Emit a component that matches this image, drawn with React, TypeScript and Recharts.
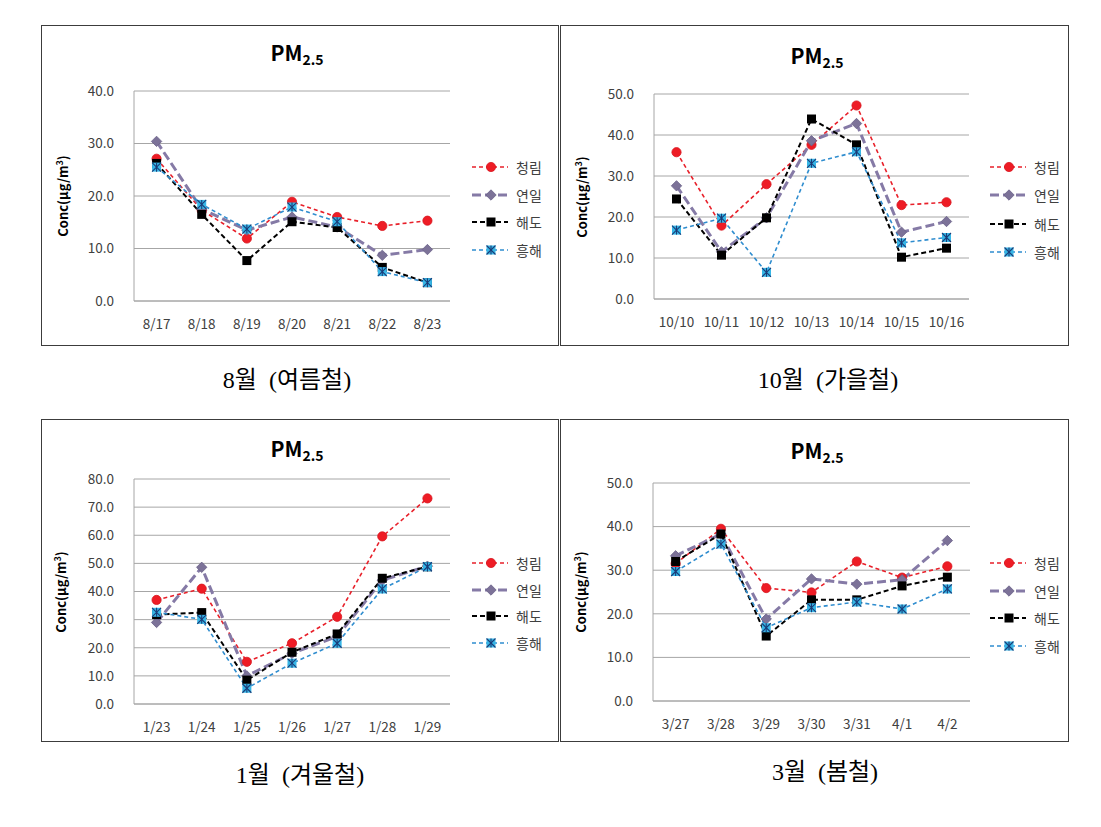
import React from 'react';
import { LineChart, Line, XAxis, YAxis, CartesianGrid } from 'recharts';

// ---------- data ----------
const seriesNames = ['청림', '연일', '해도', '흥해'];

const augDates = ['8/17', '8/18', '8/19', '8/20', '8/21', '8/22', '8/23'];
const augCheongrim = [27.1, 17.3, 11.9, 18.9, 16.0, 14.3, 15.3];
const augYeonil = [30.4, 17.5, 13.5, 16.0, 14.1, 8.7, 9.8];
const augHaedo = [26.2, 16.5, 7.7, 15.1, 14.0, 6.4, 3.5];
const augHeunghae = [25.5, 18.4, 13.7, 17.9, 15.1, 5.6, 3.5];
const augTicks = [0, 10, 20, 30, 40];

const octDates = ['10/10', '10/11', '10/12', '10/13', '10/14', '10/15', '10/16'];
const octCheongrim = [35.8, 17.9, 28.0, 37.6, 47.2, 22.9, 23.6];
const octYeonil = [27.6, 11.5, 19.8, 38.6, 42.8, 16.3, 18.9];
const octHaedo = [24.4, 10.7, 19.8, 43.9, 37.6, 10.2, 12.4];
const octHeunghae = [16.8, 19.7, 6.5, 33.1, 35.9, 13.7, 15.0];
const octTicks = [0, 10, 20, 30, 40, 50];

const janDates = ['1/23', '1/24', '1/25', '1/26', '1/27', '1/28', '1/29'];
const janCheongrim = [37.0, 41.0, 15.0, 21.6, 31.0, 59.6, 73.1];
const janYeonil = [29.0, 48.6, 10.0, 18.0, 24.0, 44.0, 49.0];
const janHaedo = [31.8, 32.5, 8.5, 18.4, 24.9, 44.7, 48.8];
const janHeunghae = [32.6, 30.1, 5.6, 14.5, 21.6, 40.9, 48.8];
const janTicks = [0, 10, 20, 30, 40, 50, 60, 70, 80];

const marDates = ['3/27', '3/28', '3/29', '3/30', '3/31', '4/1', '4/2'];
const marCheongrim = [31.5, 39.5, 25.9, 24.9, 32.0, 28.3, 30.9];
const marYeonil = [33.3, 38.3, 18.8, 28.0, 26.8, 27.8, 36.8];
const marHaedo = [32.0, 38.3, 14.9, 23.2, 23.2, 26.4, 28.4];
const marHeunghae = [29.7, 36.0, 16.8, 21.4, 22.7, 21.1, 25.7];
const marTicks = [0, 10, 20, 30, 40, 50];

const captions = ['8월  (여름철)', '10월  (가을철)', '1월  (겨울철)', '3월  (봄철)'];

// ---------- styles ----------
const seriesStyles = [
  { color: '#e8202a', width: 1.6, dash: '4 3', marker: 'circle' },
  { color: '#857aa6', width: 3, dash: '9 4', marker: 'diamond' },
  { color: '#000000', width: 2, dash: '5 3', marker: 'square' },
  { color: '#2f8dcf', width: 1.6, dash: '4 3', marker: 'asterisk' },
];

const FONT = '"Noto Sans CJK KR", "Noto Sans", sans-serif';

function Marker({ type, cx, cy }: { type: string; cx: number; cy: number }) {
  if (cx == null || cy == null) return null;
  if (type === 'circle') {
    return <circle cx={cx} cy={cy} r={4.6} fill="#ee1c25" stroke="#d8151e" strokeWidth={0.8} />;
  }
  if (type === 'diamond') {
    const s = 5.2;
    return (
      <polygon
        points={`${cx},${cy - s} ${cx + s},${cy} ${cx},${cy + s} ${cx - s},${cy}`}
        fill="#7c7298"
        stroke="#6a6188"
        strokeWidth={0.8}
      />
    );
  }
  if (type === 'square') {
    return <rect x={cx - 4.5} y={cy - 4.5} width={9} height={9} fill="#000" />;
  }
  const s = 4.5;
  return (
    <g>
      <rect x={cx - s} y={cy - s} width={2 * s} height={2 * s} fill="#36b6e6" />
      <line x1={cx} y1={cy - s} x2={cx} y2={cy + s} stroke="#1b3c78" strokeWidth={1.1} />
      <line x1={cx - s} y1={cy - s} x2={cx + s} y2={cy + s} stroke="#1b3c78" strokeWidth={1.1} />
      <line x1={cx + s} y1={cy - s} x2={cx - s} y2={cy + s} stroke="#1b3c78" strokeWidth={1.1} />
    </g>
  );
}

type PanelProps = {
  dates: string[];
  series: number[][];
  ticks: number[];
  left: number;
  top: number;
  width: number;
  height: number;
  ml: number;
  mr: number;
  mt: number;
  mb: number;
  yLabelX: number;
  titleX: number;
  titleY: number;
  legendX: number;
  legendY: number;
  legendGap: number;
};

function Panel(p: PanelProps) {
  const innerW = p.width - 2;
  const innerH = p.height - 2;
  const data = p.dates.map((d, i) => {
    const row: Record<string, any> = { date: d };
    seriesNames.forEach((n, k) => {
      row[n] = p.series[k][i];
    });
    return row;
  });
  const plotW = innerW - p.ml - p.mr;
  const pad = plotW / (2 * p.dates.length);
  const plotH = innerH - p.mt - p.mb;
  const xAxisH = 30;
  return (
    <div
      style={{
        position: 'absolute',
        left: p.left,
        top: p.top,
        width: innerW,
        height: innerH,
        border: '1px solid #3c3c3c',
        background: '#fff',
      }}
    >
      <LineChart
        width={innerW}
        height={innerH}
        data={data}
        margin={{ top: p.mt, right: p.mr, bottom: p.mb - xAxisH, left: 0 }}
      >
        <CartesianGrid horizontal vertical={false} stroke="#a6a6a6" strokeWidth={1} />
        <XAxis
          dataKey="date"
          interval={0}
          height={xAxisH}
          padding={{ left: pad, right: pad }}
          tickLine={false}
          tickSize={0}
          tickMargin={18}
          axisLine={{ stroke: '#a6a6a6' }}
          tick={{ fill: '#404040', fontSize: 13.5, fontFamily: FONT }}
        />
        <YAxis
          type="number"
          width={p.ml}
          domain={[0, p.ticks[p.ticks.length - 1]]}
          ticks={p.ticks}
          interval={0}
          tickFormatter={(v: number) => v.toFixed(1)}
          tickLine={false}
          tickSize={0}
          tickMargin={20}
          axisLine={{ stroke: '#a6a6a6' }}
          tick={{ fill: '#404040', fontSize: 13.5, fontFamily: FONT }}
        />
        {seriesNames.map((n, k) => {
          const st = seriesStyles[k];
          return (
            <Line
              key={n}
              type="linear"
              dataKey={n}
              stroke={st.color}
              strokeWidth={st.width}
              strokeDasharray={st.dash}
              isAnimationActive={false}
              activeDot={false}
              dot={(dp: any) => (
                <Marker key={`${n}-${dp.index}`} type={st.marker} cx={dp.cx} cy={dp.cy} />
              )}
            />
          );
        })}
      </LineChart>
      {/* title */}
      <div
        style={{
          position: 'absolute',
          left: p.titleX - 60,
          width: 120,
          top: p.titleY - 14,
          textAlign: 'center',
          fontFamily: FONT,
          fontWeight: 700,
          fontSize: 21,
          lineHeight: '28px',
          color: '#000',
        }}
      >
        PM<sub style={{ fontSize: 14, verticalAlign: '-4px' }}>2.5</sub>
      </div>
      {/* y-axis label */}
      <div
        style={{
          position: 'absolute',
          left: p.yLabelX - 60,
          top: p.mt + plotH / 2 - 9,
          width: 120,
          height: 18,
          lineHeight: '18px',
          textAlign: 'center',
          transform: 'rotate(-90deg)',
          fontFamily: FONT,
          fontWeight: 700,
          fontSize: 13,
          color: '#000',
          whiteSpace: 'nowrap',
        }}
      >
        Conc(μg/m<sup style={{ fontSize: 9, verticalAlign: '5px' }}>3</sup>)
      </div>
      {/* legend */}
      {seriesNames.map((n, k) => {
        const st = seriesStyles[k];
        return (
          <div
            key={n}
            style={{
              position: 'absolute',
              left: p.legendX,
              top: p.legendY + k * p.legendGap - 10,
              height: 20,
              display: 'flex',
              alignItems: 'center',
              fontFamily: FONT,
              fontSize: 14,
              color: '#404040',
              whiteSpace: 'nowrap',
            }}
          >
            <svg width={38} height={20} style={{ display: 'block' }}>
              <line
                x1={0}
                y1={10}
                x2={36}
                y2={10}
                stroke={st.color}
                strokeWidth={st.width}
                strokeDasharray={st.dash}
              />
              <Marker type={st.marker} cx={19} cy={10} />
            </svg>
            <span style={{ marginLeft: 6 }}>{n}</span>
          </div>
        );
      })}
    </div>
  );
}

function Caption({ text, x, y }: { text: string; x: number; y: number }) {
  return (
    <div
      style={{
        position: 'absolute',
        left: x - 150,
        width: 300,
        top: y - 16,
        height: 32,
        lineHeight: '32px',
        textAlign: 'center',
        fontFamily: '"Liberation Serif", "DejaVu Serif", "Noto Sans CJK KR", serif',
        fontSize: 24,
        color: '#000',
        whiteSpace: 'pre',
      }}
    >
      {text}
    </div>
  );
}

export default function App() {
  return (
    <div style={{ position: 'absolute', left: 0, top: 0, width: 1101, height: 827, background: '#fff' }}>
      <Panel
        dates={augDates}
        series={[augCheongrim, augYeonil, augHaedo, augHeunghae]}
        ticks={augTicks}
        left={41}
        top={25}
        width={518}
        height={321}
        ml={92}
        mr={108}
        mt={65}
        mb={44}
        yLabelX={18}
        titleX={255}
        titleY={26}
        legendX={430}
        legendY={141}
        legendGap={27.5}
      />
      <Panel
        dates={octDates}
        series={[octCheongrim, octYeonil, octHaedo, octHeunghae]}
        ticks={octTicks}
        left={560}
        top={25}
        width={509}
        height={321}
        ml={93}
        mr={99}
        mt={68}
        mb={46}
        yLabelX={18}
        titleX={256}
        titleY={29}
        legendX={429}
        legendY={141}
        legendGap={28.3}
      />
      <Panel
        dates={janDates}
        series={[janCheongrim, janYeonil, janHaedo, janHeunghae]}
        ticks={janTicks}
        left={41}
        top={419}
        width={518}
        height={323}
        ml={92}
        mr={108}
        mt={59}
        mb={37}
        yLabelX={16}
        titleX={255}
        titleY={28}
        legendX={430}
        legendY={143}
        legendGap={26.7}
      />
      <Panel
        dates={marDates}
        series={[marCheongrim, marYeonil, marHaedo, marHeunghae]}
        ticks={marTicks}
        left={560}
        top={419}
        width={509}
        height={323}
        ml={92}
        mr={98}
        mt={63}
        mb={40}
        yLabelX={17}
        titleX={256}
        titleY={30}
        legendX={429}
        legendY={143}
        legendGap={27.7}
      />
      <Caption text={captions[0]} x={287} y={380} />
      <Caption text={captions[1]} x={828} y={380} />
      <Caption text={captions[2]} x={300} y={775} />
      <Caption text={captions[3]} x={825} y={772} />
    </div>
  );
}
